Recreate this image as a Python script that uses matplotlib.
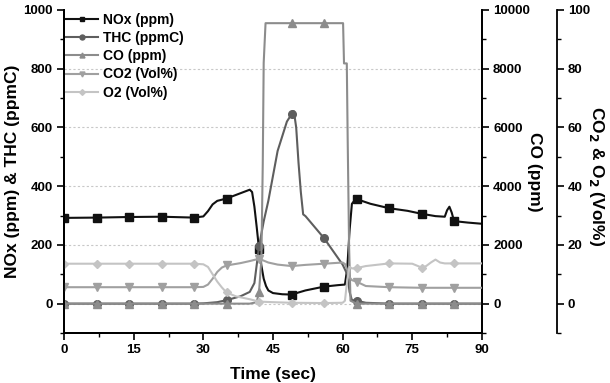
import numpy as np
import matplotlib.pyplot as plt
from matplotlib.ticker import MultipleLocator

plt.rcParams['font.family'] = ['Liberation Sans', 'DejaVu Sans']
plt.rcParams['font.weight'] = 'bold'
plt.rcParams['font.size'] = 9.5

marker_times = [0, 7, 14, 21, 28, 35, 42, 49, 56, 63, 70, 77, 84]
grid_levels = [0, 200, 400, 600, 800]

t_nox = [0, 7, 14, 21, 28, 30, 31, 32, 33, 35, 37, 39, 40, 40.5, 41, 41.5, 42, 42.5, 43, 43.5, 44, 45, 47, 49,
         52, 56, 59, 60.5, 61, 61.5, 62, 62.5, 63, 66, 70, 74, 77, 80, 82, 82.5, 83, 83.5, 84, 87, 90]
nox = [292, 293, 295, 296, 293, 297, 315, 338, 350, 358, 370, 382, 388, 380, 330, 260, 185, 130, 85, 60, 45, 36, 32, 31,
       45, 58, 63, 65, 120, 250, 340, 350, 356, 340, 325, 316, 306, 298, 296, 318, 330, 310, 281, 276, 272]

t_thc = [0, 7, 14, 21, 28, 30, 33, 35, 38, 40, 41, 42, 43, 44, 46, 48, 49, 49.5, 50, 50.5, 51, 51.5, 52,
         56, 60, 61, 61.5, 62, 63, 65, 70, 77, 84, 90]
thc = [0, 0, 0, 0, 0, 1, 5, 12, 25, 40, 70, 195, 280, 350, 520, 620, 645, 655, 600, 480, 380, 304, 298,
       223, 133, 100, 40, 12, 10, 3, 0, 0, 0, 0]

t_co = [0, 7, 14, 21, 28, 35, 40, 41.5, 42, 42.5, 42.8, 43.0, 43.4, 49, 56, 60.1, 60.3, 60.9, 61.1, 61.4, 61.7,
        63, 70, 77, 84, 90]
co = [0, 0, 0, 0, 0, 0, 0, 50, 410, 1500, 4750, 8200, 9550, 9550, 9550, 9550, 8180, 8180, 5480, 1900, 100,
      0, 0, 0, 0, 0]

t_co2 = [0, 7, 14, 21, 28, 30, 31, 32, 33, 34, 35, 38, 40, 42, 44, 46, 49, 52, 56, 60, 60.5, 61, 61.5, 62,
         63, 65, 70, 77, 84, 90]
co2 = [5.6, 5.6, 5.6, 5.6, 5.6, 5.7, 6.5, 8.5, 10.8, 12.3, 13.0, 13.8, 14.5, 15.3, 14.0, 13.3, 12.8, 13.2, 13.6, 14.0,
       13.5, 11.5, 9.0, 8.0, 7.5, 6.0, 5.6, 5.4, 5.4, 5.4]

t_o2 = [0, 7, 14, 21, 28, 30, 31, 32, 33, 34, 35, 37, 40, 42, 45, 49, 56, 60, 60.5, 61, 61.5, 62, 63, 65,
        70, 75, 77, 78, 79, 80, 81, 82, 84, 90]
o2 = [13.6, 13.6, 13.6, 13.6, 13.6, 13.4, 12.5, 10, 7.5, 5.5, 3.8, 2.5, 1.5, 0.7, 0.5, 0.3, 0.2, 0.3, 1.0, 8.0,
      12.5, 12.0, 12.1, 12.8, 13.7, 13.6, 12.3, 12.8, 14.0, 15.0, 14.0, 13.7, 13.7, 13.7]


def marks(t):
    return [i for i, v in enumerate(t) if v in marker_times]


fig = plt.figure(figsize=(6.1, 3.83), dpi=100)
ax = fig.add_axes([0.105, 0.1305, 0.685, 0.8435])
ax2 = ax.twinx()
ax3 = ax.twinx()
ax3.spines['right'].set_position(('axes', 1.179))

for a in (ax, ax2, ax3):
    a.spines['top'].set_visible(False)

ax.set_xlim(0, 90)
ax.set_ylim(-100, 1000)
ax2.set_ylim(-1000, 10000)
ax3.set_ylim(-10, 100)

ax.xaxis.set_major_locator(MultipleLocator(15))
ax.xaxis.set_minor_locator(MultipleLocator(7.5))
ax.yaxis.set_major_locator(MultipleLocator(200))
ax.yaxis.set_minor_locator(MultipleLocator(100))
ax2.yaxis.set_major_locator(MultipleLocator(2000))
ax2.yaxis.set_minor_locator(MultipleLocator(1000))
ax3.yaxis.set_major_locator(MultipleLocator(20))
ax3.yaxis.set_minor_locator(MultipleLocator(10))

for a in (ax, ax2, ax3):
    a.tick_params(which='major', length=5, width=1.2, direction='out', pad=3)
    a.tick_params(which='minor', length=3, width=1.0, direction='out')
    for s in a.spines.values():
        s.set_linewidth(1.3)

ax.hlines(grid_levels, 0, 90, colors='#c8c8c8', linestyles=(0, (2, 2)), linewidth=0.8, zorder=0)

l1, = ax.plot(t_nox, nox, color='#111111', lw=1.5, marker='s', ms=5.5, markevery=marks(t_nox), label='NOx (ppm)')
l2, = ax.plot(t_thc, thc, color='#5e5e5e', lw=1.5, marker='o', ms=5.5, markevery=marks(t_thc), label='THC (ppmC)')
l3, = ax2.plot(t_co, co, color='#8c8c8c', lw=1.5, marker='^', ms=5.5, markevery=marks(t_co), label='CO (ppm)')
l4, = ax3.plot(t_co2, co2, color='#a0a0a0', lw=1.5, marker='v', ms=5.5, markevery=marks(t_co2), label='CO2 (Vol%)')
l5, = ax3.plot(t_o2, o2, color='#c4c4c4', lw=1.5, marker='D', ms=4.5, markevery=marks(t_o2), label='O2 (Vol%)')

ax.set_xlabel('Time (sec)', fontweight='bold', fontsize=12.5, va='center')
ax.xaxis.set_label_coords(0.5, -0.127)
ax.set_ylabel('NOx (ppm) & THC (ppmC)', fontweight='bold', fontsize=12.5, va='center', ha='center')
ax.yaxis.set_label_coords(-0.124, 0.5)
ax2.set_ylabel('CO (ppm)', fontweight='bold', fontsize=12.5, rotation=270, va='center', ha='center')
ax2.yaxis.set_label_coords(1.127, 0.5)
ax3.set_ylabel('CO$_2$ & O$_2$ (Vol%)', fontweight='bold', fontsize=12.5, rotation=270, va='center', ha='center')
ax3.yaxis.set_label_coords(1.275, 0.485)

ax.legend(handles=[l1, l2, l3, l4, l5], loc='upper left', bbox_to_anchor=(-0.011, 1.008), frameon=False,
          fontsize=10, handlelength=2.4, handletextpad=0.36, labelspacing=0.3, borderaxespad=0,
          markerscale=0.65)

fig.savefig('out.png', dpi=100)
